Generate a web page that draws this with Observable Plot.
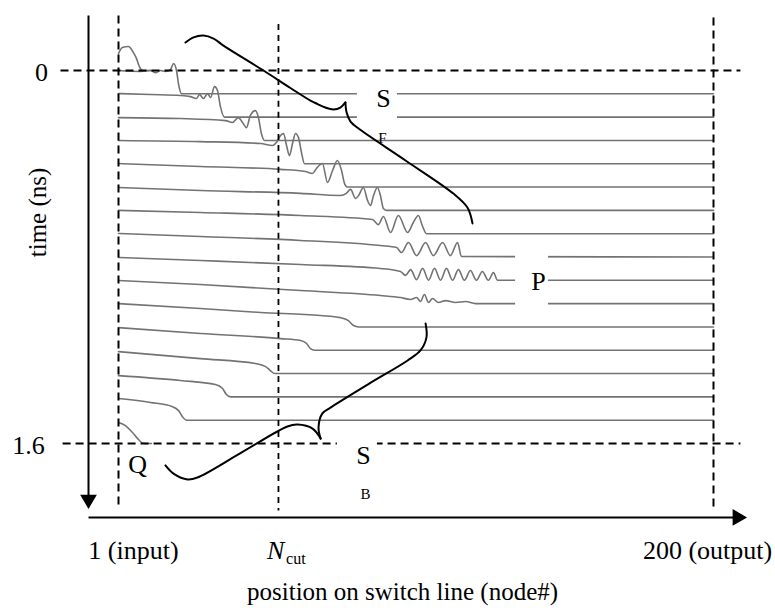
<!DOCTYPE html>
<html><head><meta charset="utf-8">
<script src="https://cdn.jsdelivr.net/npm/d3@7"></script>
<script src="https://cdn.jsdelivr.net/npm/@observablehq/plot@0.6"></script>
<style>body{margin:0;background:#fff}</style>
</head><body><div id="chart"></div>
<script>
// ---- data: time offset of each snapshot (ns) ----
const traceTimes = [0,0.1,0.2,0.3,0.4,0.5,0.6,0.7,0.8,0.9,1.0,1.1,1.2,1.3,1.4,1.5,1.6];
// each trace: [node#, relative voltage] (1 = one trace spacing above its baseline)
const trace00 = [[1,0.73],[2.3,0.99],[4.3,1.03],[6.0,0.77],[7.0,0.52],[8.0,0.17],[9.0,0],[12,0]];
const trace01 = [[1,1.0],[8.4,0.96],[11.7,1.0],[13.4,0.91],[15.0,1.0],[16.7,0.96],[18.4,1.04],[19.4,1.30],[20.4,1.0],[21.1,0.40],[22.1,0],[200,0]];
const trace02 = [[1,1.01],[11.7,0.97],[21.7,0.93],[25.1,0.88],[27.1,0.80],[28.1,0.97],[29.4,0.80],[30.8,1.01],[31.8,0.84],[33.1,1.31],[34.1,1.14],[35.1,0.45],[36.4,0],[200,0]];
const trace03 = [[1,0.98],[21.7,0.94],[36.8,0.85],[39.1,0.77],[41.1,0.98],[42.5,0.77],[43.8,0.55],[45.1,1.07],[46.8,1.28],[47.8,0.98],[48.8,0.30],[49.8,0],[200,0]];
const trace04 = [[1,1.0],[28.4,0.95],[48.5,0.87],[52.5,0.78],[53.8,0.91],[55.2,1.21],[56.2,1.30],[57.2,0.78],[58.2,0.35],[59.2,0.87],[60.2,1.30],[61.2,1.12],[62.2,0.48],[63.2,0],[200,0]];
const trace05 = [[1,1.01],[28.4,0.88],[55.2,0.76],[63.5,0.67],[65.9,0.58],[67.2,0.80],[69.2,1.01],[70.9,0.20],[72.6,0.71],[74.2,1.14],[75.6,0.71],[76.6,0.15],[77.6,0],[200,0]];
const trace06 = [[1,0.98],[28.4,0.85],[61.9,0.73],[75.2,0.64],[77.2,0.73],[78.6,0.90],[80.3,0.51],[81.3,0.64],[82.9,0.98],[84.3,0.42],[85.3,0.21],[86.3,0.64],[87.6,0.98],[88.6,0.64],[89.6,0.08],[90.6,0],[200,0]];
const trace07 = [[1,1.0],[28.4,0.91],[61.9,0.78],[85.9,0.61],[87.9,0.39],[89.6,0.74],[92.0,0.05],[94.6,0.78],[97.7,0.05],[99.6,0.48],[101.3,0.78],[102.6,0.35],[104.0,0],[200,0]];
const trace08 = [[1,1.01],[28.4,0.88],[61.9,0.71],[88.6,0.49],[94.0,0.41],[95.6,0.19],[98.0,0.62],[100.7,0.06],[103.7,0.62],[106.3,0.06],[109.4,0.62],[112.0,0.06],[114.4,0.62],[115.7,0.02],[200,0]];
const trace09 = [[1,0.98],[28.4,0.85],[61.9,0.68],[88.6,0.51],[95.3,0.38],[97.0,0.21],[98.7,0.46],[100.7,0.03],[102.7,0.51],[104.7,0],[106.7,0.51],[108.7,0],[110.7,0.51],[112.7,0],[114.7,0.46],[116.7,0],[118.7,0.42],[120.7,0],[122.7,0.38],[124.7,0],[126.4,0.33],[127.8,0],[200,0]];
const trace10 = [[1,0.99],[28.4,0.82],[61.9,0.56],[88.6,0.35],[95.3,0.26],[98.7,0.18],[100.7,0.26],[102.0,0.09],[103.3,0.39],[104.7,0.05],[106.0,0.22],[108.0,0.05],[110.4,0.13],[113.7,0.05],[117.1,0.09],[120.4,0],[200,0]];
const trace11 = [[1,1.0],[28.4,0.79],[48.5,0.62],[68.6,0.49],[75.2,0.40],[77.9,0.27],[79.6,0.06],[81.3,0],[200,0]];
const trace12 = [[1,0.97],[28.4,0.72],[55.2,0.50],[61.9,0.42],[63.9,0.29],[65.2,0.07],[66.6,0],[200,0]];
const trace13 = [[1,0.94],[28.4,0.64],[46.8,0.43],[50.2,0.30],[51.8,0.13],[53.2,0],[200,0]];
const trace14 = [[1,0.91],[21.7,0.70],[33.4,0.53],[35.8,0.36],[37.1,0.10],[38.5,0],[200,0]];
const trace15 = [[1,0.93],[11.7,0.76],[19.1,0.58],[21.1,0.41],[22.4,0.15],[23.7,0],[200,0]];
const trace16 = [[1,0.90],[3.3,0.77],[5.7,0.47],[7.4,0.21],[9.4,0],[12,0]];
const traces = [trace00,trace01,trace02,trace03,trace04,trace05,trace06,trace07,trace08,trace09,trace10,trace11,trace12,trace13,trace14,trace15,trace16];
const traceSpacing = 0.1; // ns per unit of relative voltage

// ---- annotation geometry (node#, ns) ----
const axisLines = [
  {x1:-9.03, y1:-0.236, x2:-9.03, y2:1.84},
  {x1:-9.03, y1:1.917, x2:207.0, y2:1.917}
];
const axisHeads = [
  {node:-9.03, t:1.84, rot:180},
  {node:208.0, t:1.917, rot:90}
];
const guideLines = [
  {x1:-18.4, y1:0, x2:209.0, y2:0},
  {x1:-17.7, y1:1.6, x2:209.0, y2:1.6},
  {x1:1, y1:-0.236, x2:1, y2:1.879},
  {x1:200, y1:-0.227, x2:200, y2:1.879}
];
const nCut = 54.5;
const cutLine = [{x1:nCut, y1:-0.2, x2:nCut, y2:1.887}];
const labelGaps = [
  {x1:80.9, x2:94.3, y1:0.08, y2:0.225},
  {x1:133.8, x2:144.8, y1:0.78, y2:1.02},
  {x1:74.2, x2:87.6, y1:1.585, y2:1.615}
];
const braceF_left = [[23.4,-0.120],[26.1,-0.142],[29.4,-0.150],[32.8,-0.137],[36.1,-0.107],[49.5,0.0],[58.5,0.075],[65.2,0.129],[67.6,0.144],[70.2,0.159],[72.9,0.167],[75.2,0.159],[76.9,0.137]];
const braceF_right = [[76.9,0.137],[77.3,0.180],[78.6,0.219],[81.3,0.249],[97.0,0.386],[113.0,0.528],[117.7,0.588],[119.4,0.656]];
const braceB_right = [[103.7,1.085],[104.0,1.145],[102.0,1.201],[97.7,1.244],[84.6,1.345],[71.9,1.446],[69.2,1.471],[67.9,1.531],[68.6,1.579]];
const braceB_left = [[68.6,1.579],[65.9,1.536],[60.9,1.519],[57.5,1.527],[42.5,1.636],[27.4,1.746],[24.1,1.754],[19.4,1.729],[16.7,1.694]];
const braces = [braceF_left, braceF_right, braceB_right, braceB_left];

const timeTicks = [{node:-24.75, t:0.009, label:"0"},{node:-29.1, t:1.609, label:"1.6"}];
const nodeTicks = [{node:6.0, t:2.059, label:"1 (input)"},{node:198.0, t:2.059, label:"200 (output)"}];
const bigLetters = [{node:89.6,t:0.12,label:"S"},{node:141.5,t:0.905,label:"P"},{node:82.9,t:1.652,label:"S"},{node:7.4,t:1.69,label:"Q"}];
const subLetters = [{node:89.3,t:0.292,label:"F"},{node:83.6,t:1.819,label:"B"}];

// ---- build rows ----
const traceRows = traces.flatMap((tr,k) => tr.map(([node,v]) => ({trace:k, node, t: traceTimes[k] - v*traceSpacing})));
const braceRows = braces.flatMap((b,i) => b.map(([node,t]) => ({arm:i, node, t})));

const FONT = "Liberation Serif";
const chart = Plot.plot({
  width: 775, height: 610,
  x: {domain:[1,200], range:[118,713], axis:null},
  y: {domain:[0,1.6], range:[70,443], axis:null},
  style: {fontFamily: FONT, background:"white", color:"black"},
  marks: [
    Plot.line(traceRows, {x:"node", y:"t", z:"trace", stroke:"#737373", strokeWidth:1.6, curve:"monotone-x"}),
    Plot.link(guideLines, {x1:"x1", y1:"y1", x2:"x2", y2:"y2", stroke:"black", strokeWidth:2, strokeDasharray:"8,5"}),
    Plot.link(cutLine, {x1:"x1", y1:"y1", x2:"x2", y2:"y2", stroke:"black", strokeWidth:1.8, strokeDasharray:"6,5"}),
    Plot.rect(labelGaps, {x1:"x1", x2:"x2", y1:"y1", y2:"y2", fill:"white"}),
    Plot.link(axisLines, {x1:"x1", y1:"y1", x2:"x2", y2:"y2", stroke:"black", strokeWidth:2}),
    Plot.dot(axisHeads, {x:"node", y:"t", rotate:"rot", symbol:"triangle", r:6.2, fill:"black", stroke:"none"}),
    Plot.line(braceRows, {x:"node", y:"t", z:"arm", stroke:"black", strokeWidth:2, curve:"catmull-rom"}),
    Plot.text(timeTicks, {x:"node", y:"t", text:"label", fontSize:26}),
    Plot.text([{node:-25.8, t:0.609}], {x:"node", y:"t", text:() => "time (ns)", rotate:-90, fontSize:25}),
    Plot.text(nodeTicks, {x:"node", y:"t", text:"label", fontSize:26}),
    Plot.text([{node:53.6, t:2.059}], {x:"node", y:"t", text:() => "N", fontSize:26, fontStyle:"italic"}),
    Plot.text([{node:60.3, t:2.093}], {x:"node", y:"t", text:() => "cut", fontSize:16}),
    Plot.text([{node:96.0, t:2.236}], {x:"node", y:"t", text:() => "position on switch line (node#)", fontSize:25}),
    Plot.text(bigLetters, {x:"node", y:"t", text:"label", fontSize:26}),
    Plot.text(subLetters, {x:"node", y:"t", text:"label", fontSize:15})
  ]
});
document.getElementById("chart").appendChild(chart);
</script>
</body></html>
